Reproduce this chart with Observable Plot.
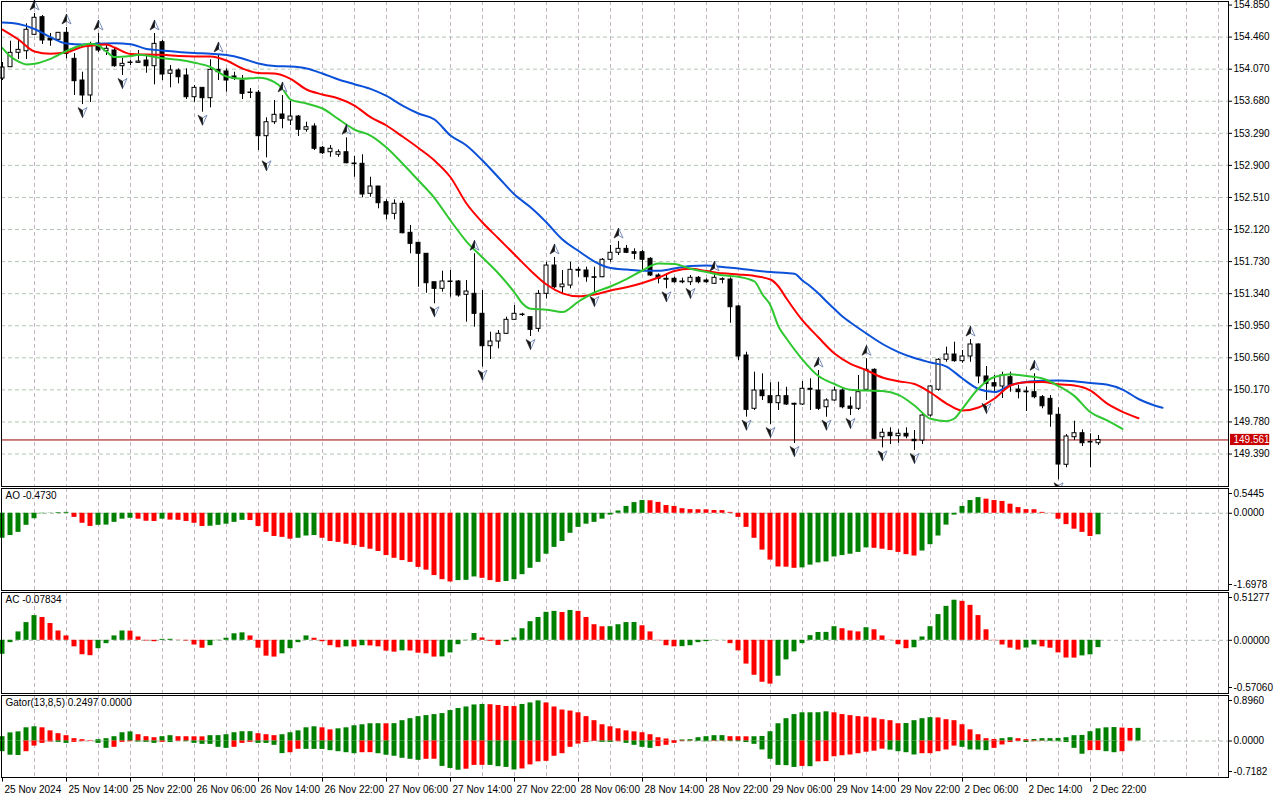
<!DOCTYPE html>
<html><head><meta charset="utf-8">
<script src="https://cdn.jsdelivr.net/npm/d3@7"></script>
<script src="https://cdn.jsdelivr.net/npm/@observablehq/plot@0.6"></script>
<style>
html,body{margin:0;padding:0;background:#fff;}
#chart{position:relative;width:1280px;height:800px;overflow:hidden;background:#fff;}
#chart > svg{position:absolute;left:0;overflow:visible;}
</style></head><body><div id="chart"></div>
<script>
// ---------- DATA ----------
const timeLabels = ["25 Nov 2024","25 Nov 14:00","25 Nov 22:00","26 Nov 06:00","26 Nov 14:00","26 Nov 22:00","27 Nov 06:00","27 Nov 14:00","27 Nov 22:00","28 Nov 06:00","28 Nov 14:00","28 Nov 22:00","29 Nov 06:00","29 Nov 14:00","29 Nov 22:00","2 Dec 06:00","2 Dec 14:00","2 Dec 22:00"];
const labelBars = [0,8,16,24,32,40,48,56,64,72,80,88,96,104,112,120,128,136];
const priceTicks = [154.850,154.460,154.070,153.680,153.290,152.900,152.510,152.120,151.730,151.340,150.950,150.560,150.170,149.780,149.390];
const lastPrice = 149.561;

const open = [153.956,154.094,154.269,154.288,154.488,154.702,154.443,154.427,154.512,154.196,153.932,153.750,154.382,154.288,154.297,154.106,154.151,154.147,154.175,154.106,154.398,154.014,154.054,153.993,153.729,153.843,153.717,154.062,154.042,153.981,153.932,153.786,153.783,153.255,153.425,153.519,153.446,153.494,153.333,153.373,153.114,153.060,153.029,153.060,152.923,152.919,152.554,152.643,152.452,152.311,152.433,152.080,151.958,151.825,151.479,151.399,151.488,151.488,151.326,151.338,151.095,150.701,150.758,150.852,151.022,151.086,151.054,150.912,151.338,151.682,151.418,151.439,151.630,151.622,151.540,151.540,151.752,151.837,151.885,151.844,151.844,151.764,151.561,151.521,151.521,151.488,151.479,151.533,151.500,151.460,151.508,151.512,151.184,150.588,149.940,150.162,150.093,150.008,150.093,150.001,149.992,150.183,150.162,149.959,150.041,150.162,149.968,149.940,150.171,150.414,149.594,149.648,149.607,149.636,149.563,149.554,149.858,150.171,150.536,150.600,150.519,150.576,150.722,150.333,150.251,150.211,150.324,150.174,150.150,150.142,150.081,150.061,149.867,149.259,149.594,149.643,149.538,149.521];
const high = [154.151,154.410,154.419,154.622,154.747,154.723,154.504,154.516,154.577,154.260,154.033,154.398,154.504,154.378,154.321,154.200,154.175,154.297,154.236,154.504,154.419,154.115,154.074,154.074,153.871,153.847,154.184,154.236,154.074,154.033,153.993,153.835,153.810,153.478,153.689,153.750,153.677,153.506,153.425,153.406,153.129,153.142,153.089,153.235,153.008,153.029,152.756,152.643,152.481,152.481,152.464,152.169,151.958,151.825,151.479,151.613,151.622,151.500,151.500,151.825,151.378,150.871,150.892,151.054,151.196,151.102,151.054,151.378,151.722,151.780,151.622,151.722,151.662,151.662,151.662,151.767,151.926,151.974,151.926,151.885,151.865,151.776,151.581,151.581,151.540,151.528,151.561,151.549,151.521,151.573,151.533,151.533,151.196,150.628,150.385,150.365,150.256,150.263,150.202,150.008,150.272,150.305,150.405,150.061,150.202,150.183,150.081,150.345,150.548,150.426,149.696,149.709,149.684,149.709,149.676,149.879,150.223,150.548,150.689,150.750,150.649,150.782,150.730,150.454,150.345,150.385,150.385,150.223,150.202,150.365,150.101,150.101,149.952,149.627,149.789,149.683,149.636,149.615];
const low = [153.932,154.090,154.188,154.188,154.479,154.370,154.349,154.419,154.196,153.750,153.640,153.665,154.273,154.236,154.094,153.993,154.115,154.139,154.021,153.880,153.932,153.843,153.892,153.701,153.668,153.547,153.600,153.932,153.790,153.932,153.701,153.713,153.081,152.992,153.397,153.345,153.385,153.251,153.303,153.081,153.032,152.999,152.999,152.919,152.756,152.506,152.513,152.372,152.238,152.238,152.068,151.825,151.418,151.345,151.217,151.358,151.297,151.297,150.993,150.932,150.446,150.539,150.669,150.843,151.014,151.062,150.819,150.871,151.277,151.399,151.338,151.399,151.540,151.479,151.342,151.533,151.722,151.804,151.828,151.752,151.622,151.549,151.460,151.399,151.467,151.460,151.439,151.460,151.467,151.451,151.460,150.981,150.527,149.838,149.919,150.041,149.749,149.919,149.980,149.518,149.980,149.919,149.919,149.838,150.032,149.940,149.858,149.919,150.162,149.563,149.465,149.505,149.521,149.575,149.433,149.505,149.838,150.154,150.506,150.506,150.494,150.506,150.244,150.041,150.129,150.065,150.142,150.061,149.907,150.061,149.940,149.716,149.076,149.222,149.554,149.481,149.222,149.494];
const close = [154.090,154.269,154.305,154.549,154.695,154.419,154.419,154.512,154.257,153.924,153.750,154.349,154.297,154.318,154.106,154.135,154.145,154.163,154.106,154.378,154.005,154.054,153.972,153.729,153.843,153.717,154.062,154.033,153.932,153.953,153.770,153.780,153.255,153.425,153.515,153.466,153.494,153.333,153.364,153.102,153.048,153.102,153.060,152.926,152.915,152.546,152.643,152.440,152.303,152.433,152.075,151.946,151.825,151.467,151.399,151.488,151.482,151.318,151.366,151.095,150.701,150.758,150.852,151.022,151.095,151.080,150.900,151.338,151.682,151.418,151.451,151.630,151.625,151.540,151.533,151.752,151.837,151.885,151.837,151.825,151.752,151.561,151.521,151.516,151.479,151.484,151.533,151.479,151.479,151.533,151.516,151.175,150.576,149.927,150.162,150.093,150.008,150.093,149.992,149.996,150.183,150.171,149.940,150.041,150.162,149.959,149.940,150.142,150.414,149.575,149.648,149.607,149.636,149.603,149.546,149.858,150.211,150.536,150.600,150.519,150.576,150.722,150.333,150.244,150.211,150.345,150.223,150.142,150.146,150.081,149.971,149.870,149.262,149.603,149.643,149.521,149.530,149.561];

const fractalUp = [4,8,12,19,27,35,43,59,69,77,89,102,108,121,129];
const fractalDown = [10,15,25,33,54,60,66,74,83,86,93,96,99,103,106,110,114,123,132];

// Alligator lines: [bar index, price]
const jaw = [[0,154.637],[2,154.619],[4,154.558],[6,154.459],[8,154.382],[10,154.370],[12,154.378],[14,154.386],[16,154.374],[18,154.315],[20,154.297],[22,154.279],[24,154.267],[26,154.258],[28,154.242],[30,154.200],[32,154.139],[34,154.108],[36,154.102],[38,154.078],[40,154.017],[42,153.944],[44,153.887],[46,153.831],[48,153.744],[50,153.628],[52,153.531],[54,153.458],[56,153.263],[58,153.142],[60,152.959],[62,152.753],[64,152.546],[66,152.391],[67,152.303],[68,152.205],[70,151.999],[72,151.859],[74,151.731],[76,151.652],[78,151.634],[80,151.618],[82,151.618],[84,151.646],[86,151.676],[88,151.682],[90,151.664],[92,151.646],[94,151.622],[96,151.603],[98,151.591],[99,151.581],[100,151.500],[101,151.427],[102,151.342],[103,151.245],[104,151.153],[105,151.062],[106,150.989],[108,150.855],[110,150.728],[112,150.630],[114,150.557],[116,150.503],[118,150.454],[120,150.308],[122,150.181],[124,150.144],[126,150.229],[128,150.266],[130,150.280],[132,150.284],[134,150.275],[136,150.253],[138,150.235],[140,150.174],[142,150.059],[144,149.980],[145,149.952]];
const teeth = [[0,154.552],[2,154.431],[4,154.285],[6,154.257],[8,154.275],[10,154.342],[12,154.364],[13,154.370],[14,154.333],[16,154.254],[18,154.248],[20,154.245],[22,154.230],[24,154.224],[26,154.224],[28,154.175],[30,154.078],[32,154.023],[34,154.017],[36,153.953],[38,153.823],[40,153.762],[42,153.713],[44,153.628],[46,153.486],[48,153.385],[50,153.251],[52,153.111],[54,152.959],[56,152.756],[58,152.436],[60,152.205],[62,152.011],[64,151.816],[66,151.622],[68,151.451],[70,151.344],[72,151.308],[74,151.330],[76,151.378],[78,151.417],[80,151.470],[82,151.536],[84,151.615],[86,151.642],[88,151.615],[90,151.587],[92,151.573],[94,151.555],[96,151.512],[97,151.427],[98,151.281],[100,151.014],[102,150.807],[104,150.612],[106,150.487],[108,150.409],[110,150.320],[112,150.275],[114,150.241],[116,150.138],[118,150.004],[120,149.919],[122,149.956],[124,150.065],[126,150.223],[128,150.264],[130,150.267],[132,150.238],[134,150.223],[136,150.162],[138,150.008],[140,149.903],[142,149.825]];
const lips = [[0,154.327],[1,154.224],[2,154.163],[3,154.127],[4,154.135],[6,154.196],[8,154.291],[10,154.364],[11,154.378],[12,154.358],[13,154.285],[14,154.218],[16,154.229],[17,154.245],[18,154.236],[20,154.202],[22,154.184],[24,154.149],[26,154.096],[28,153.981],[30,153.953],[32,153.965],[34,153.912],[35,153.831],[36,153.701],[38,153.652],[40,153.592],[42,153.462],[44,153.336],[46,153.263],[48,153.117],[50,152.923],[52,152.716],[54,152.503],[56,152.230],[58,151.974],[60,151.780],[62,151.585],[64,151.354],[65,151.220],[66,151.156],[68,151.144],[70,151.117],[72,151.245],[74,151.354],[76,151.427],[78,151.516],[80,151.622],[82,151.707],[84,151.701],[86,151.642],[88,151.603],[90,151.563],[92,151.545],[94,151.488],[95,151.330],[96,151.196],[97,150.941],[98,150.795],[100,150.539],[102,150.338],[104,150.241],[106,150.171],[108,150.162],[110,150.156],[112,150.109],[114,149.980],[116,149.818],[118,149.790],[119,149.822],[120,149.943],[122,150.187],[124,150.326],[126,150.359],[128,150.338],[130,150.308],[132,150.217],[134,150.094],[136,149.898],[138,149.803],[140,149.696]];

// Awesome Oscillator
const aoValues = [-0.55,-0.49,-0.42,-0.265,-0.12,-0.01,0.005,0.015,0.02,-0.09,-0.22,-0.29,-0.265,-0.26,-0.2,-0.13,-0.11,-0.13,-0.175,-0.18,-0.13,-0.15,-0.155,-0.18,-0.22,-0.29,-0.285,-0.265,-0.24,-0.2,-0.155,-0.16,-0.29,-0.42,-0.51,-0.53,-0.57,-0.55,-0.50,-0.49,-0.55,-0.62,-0.64,-0.68,-0.71,-0.75,-0.79,-0.84,-0.93,-0.99,-1.04,-1.08,-1.19,-1.25,-1.37,-1.46,-1.51,-1.48,-1.475,-1.40,-1.43,-1.48,-1.52,-1.50,-1.46,-1.35,-1.21,-1.08,-0.90,-0.75,-0.62,-0.44,-0.31,-0.24,-0.20,-0.13,-0.04,0.05,0.15,0.235,0.28,0.275,0.24,0.17,0.15,0.10,0.08,0.078,0.076,0.06,0.058,0.02,-0.09,-0.31,-0.55,-0.81,-1.03,-1.18,-1.185,-1.21,-1.20,-1.14,-1.09,-1.07,-0.96,-0.93,-0.90,-0.86,-0.76,-0.77,-0.79,-0.82,-0.86,-0.91,-0.94,-0.83,-0.69,-0.50,-0.26,-0.04,0.15,0.28,0.345,0.31,0.28,0.26,0.20,0.125,0.08,0.078,0.02,0.003,-0.13,-0.25,-0.35,-0.42,-0.51,-0.473];
const aoColorRuns = [["g",9],["r",3],["g",5],["r",3],["g",1],["r",5],["g",5],["r",6],["g",3],["r",17],["g",3],["r",3],["g",18],["r",19],["g",9],["r",6],["g",8],["r",14],["g",1]];
const aoAxis = [0.5445, 0.0000, -1.6978];

// Accelerator Oscillator
const acValues = [-0.15,-0.025,0.09,0.19,0.265,0.245,0.18,0.10,0.047,-0.07,-0.155,-0.165,-0.09,-0.036,0.047,0.10,0.098,0.036,-0.007,-0.015,0.01,0.011,-0.002,-0.007,-0.05,-0.085,-0.058,-0.004,0.022,0.07,0.08,0.047,-0.085,-0.17,-0.18,-0.145,-0.09,-0.025,0.047,0.022,-0.015,-0.058,-0.08,-0.07,-0.072,-0.058,-0.06,-0.07,-0.116,-0.127,-0.113,-0.115,-0.138,-0.145,-0.18,-0.178,-0.135,-0.047,-0.004,0.073,0.025,-0.01,-0.055,-0.015,0.025,0.124,0.20,0.245,0.30,0.31,0.298,0.32,0.31,0.245,0.167,0.145,0.146,0.167,0.19,0.191,0.156,0.09,-0.004,-0.058,-0.07,-0.068,-0.058,-0.025,-0.014,-0.002,-0.001,-0.036,-0.113,-0.255,-0.375,-0.45,-0.47,-0.385,-0.21,-0.124,-0.036,0.05,0.084,0.085,0.146,0.124,0.10,0.09,0.135,0.113,0.047,-0.002,-0.047,-0.09,-0.08,0.036,0.146,0.276,0.364,0.43,0.418,0.375,0.265,0.113,-0.004,-0.05,-0.084,-0.105,-0.083,-0.05,-0.07,-0.085,-0.135,-0.19,-0.191,-0.167,-0.156,-0.07834];
const acColorRuns = [["g",5],["r",7],["g",4],["r",4],["g",2],["r",4],["g",5],["r",4],["g",4],["r",4],["g",1],["r",1],["g",1],["r",4],["g",1],["r",4],["g",5],["r",3],["g",7],["r",1],["g",1],["r",4],["g",4],["r",5],["g",6],["r",6],["g",8],["r",3],["g",1],["r",5],["g",6],["r",8],["g",2],["r",5],["g",3]];
const acAxis = [0.51277, 0.00000, -0.57060];

// Gator Oscillator
const gatorUp = [0.085,0.16,0.18,0.26,0.28,0.26,0.20,0.144,0.105,0.046,0.026,0.007,0.026,0.046,0.085,0.163,0.18,0.124,0.085,0.065,0.085,0.105,0.085,0.084,0.083,0.082,0.105,0.106,0.124,0.163,0.183,0.184,0.144,0.124,0.105,0.124,0.163,0.20,0.26,0.28,0.26,0.22,0.24,0.26,0.30,0.32,0.34,0.341,0.339,0.342,0.40,0.44,0.48,0.50,0.52,0.54,0.60,0.64,0.67,0.71,0.72,0.715,0.70,0.68,0.679,0.72,0.75,0.79,0.75,0.67,0.61,0.59,0.555,0.48,0.40,0.32,0.28,0.24,0.20,0.18,0.163,0.124,0.065,0.04,0.01,0.02,0.026,0.065,0.085,0.105,0.106,0.085,0.084,0.083,0.084,0.09,0.183,0.34,0.44,0.52,0.555,0.556,0.557,0.575,0.555,0.52,0.50,0.48,0.47,0.45,0.42,0.40,0.34,0.345,0.40,0.44,0.46,0.455,0.42,0.40,0.32,0.22,0.124,0.046,0.03,0.046,0.065,0.046,0.026,0.03,0.046,0.047,0.05,0.065,0.105,0.11,0.183,0.24,0.26,0.265,0.255,0.247,0.2497];
const gatorUpColorRuns = [["g",5],["r",7],["g",5],["r",3],["g",2],["r",4],["g",6],["r",3],["g",5],["r",2],["g",6],["r",1],["g",12],["r",4],["g",3],["r",17],["g",6],["r",3],["g",10],["r",9],["g",4],["r",8],["g",2],["r",2],["g",11],["r",2],["g",1]];
const gatorDown = [-0.21,-0.28,-0.285,-0.21,-0.10,-0.046,-0.02,-0.026,-0.046,-0.026,-0.013,-0.005,-0.046,-0.144,-0.124,-0.026,-0.013,-0.02,-0.026,-0.046,-0.026,-0.03,-0.005,-0.013,-0.046,-0.065,-0.066,-0.124,-0.144,-0.124,-0.046,-0.026,-0.046,-0.047,-0.085,-0.248,-0.23,-0.163,-0.164,-0.165,-0.166,-0.19,-0.21,-0.23,-0.25,-0.23,-0.229,-0.25,-0.28,-0.30,-0.34,-0.36,-0.38,-0.36,-0.359,-0.50,-0.54,-0.575,-0.555,-0.48,-0.479,-0.48,-0.505,-0.52,-0.57,-0.55,-0.47,-0.41,-0.40,-0.30,-0.25,-0.124,-0.06,-0.03,-0.01,-0.026,-0.027,-0.013,-0.046,-0.085,-0.124,-0.144,-0.11,-0.085,-0.046,-0.01,-0.005,-0.01,-0.015,-0.01,-0.005,-0.01,-0.012,-0.03,-0.065,-0.176,-0.36,-0.48,-0.485,-0.52,-0.50,-0.505,-0.41,-0.405,-0.31,-0.29,-0.275,-0.25,-0.22,-0.20,-0.16,-0.18,-0.21,-0.23,-0.275,-0.25,-0.249,-0.21,-0.176,-0.10,-0.124,-0.176,-0.177,-0.19,-0.144,-0.078,-0.03,-0.01,-0.03,-0.013,-0.005,-0.01,-0.013,-0.03,-0.144,-0.26,-0.19,-0.188,-0.21,-0.23,-0.21];
const gatorDownColorRuns = [["g",3],["r",4],["g",2],["r",3],["g",2],["r",3],["g",3],["r",1],["g",1],["r",1],["g",6],["r",3],["g",4],["r",2],["g",7],["r",2],["g",6],["r",2],["g",3],["r",3],["g",4],["r",10],["g",2],["r",1],["g",4],["r",5],["g",2],["r",2],["g",9],["r",1],["g",1],["r",9],["g",4],["r",5],["g",4],["r",4],["g",1],["r",2],["g",5],["r",2],["g",2],["r",1]];
const gatorAxis = [0.8960, 0.0000, -0.7182];

// ---------- RENDER ----------
const expand = runs => runs.flatMap(([c, n]) => Array(n).fill(c));
const GREEN = "#008000", RED = "#ff0000";
const W = 1280, ML = 1, MR = 52;
const xDom = [-0.125, 153.25];
const xEnd = xDom[1];
const vGrid = d3.range(4, 153, 4);
const baseStyle = {fontFamily: "'Liberation Sans', Arial, sans-serif", fontSize: "10px", background: "transparent", color: "black", overflow: "visible"};
const gridV = () => Plot.ruleX(vGrid, {x: d => d, stroke: "#c4b4c4", strokeDasharray: "4,3"});
const chart = document.getElementById("chart");
function place(svg, top) { svg.style.top = top + "px"; chart.appendChild(svg); }

const candles = open.map((o, i) => ({i, open: o, high: high[i], low: low[i], close: close[i]}));
// fractal arrow glyph halves (dark left half, light right half)
const upL = {draw(c) { c.moveTo(0,-5.5); c.lineTo(-4.5,4.5); c.lineTo(0,1.8); c.closePath(); }};
const upR = {draw(c) { c.moveTo(0,-5.5); c.lineTo(4.5,4.5); c.lineTo(0,1.8); c.closePath(); }};
const dnL = {draw(c) { c.moveTo(0,5.5); c.lineTo(-4.5,-4.5); c.lineTo(0,-1.8); c.closePath(); }};
const dnR = {draw(c) { c.moveTo(0,5.5); c.lineTo(4.5,-4.5); c.lineTo(0,-1.8); c.closePath(); }};
const lineOpts = (color) => ({x: d => d[0], y: d => d[1], stroke: color, strokeWidth: 2, curve: "monotone-x"});
const upData = fractalUp.map(i => candles[i]);
const dnData = fractalDown.map(i => candles[i]);

const mainPlot = Plot.plot({
  width: W, height: 487, marginLeft: ML, marginRight: MR, marginTop: 1, marginBottom: 1,
  x: {domain: xDom, axis: null},
  y: {domain: [148.995, 154.893], axis: null},
  style: baseStyle,
  marks: [
    gridV(),
    Plot.ruleY(priceTicks.slice(1), {y: d => d, stroke: "#b2c6b2", strokeDasharray: "4,3"}),
    Plot.ruleY([lastPrice], {y: d => d, stroke: "#9a0000"}),
    Plot.ruleX(candles, {x: "i", y1: "low", y2: "high", stroke: "black"}),
    Plot.rect(candles, {x1: d => d.i - 0.25, x2: d => d.i + 0.25, y1: "open", y2: "close",
      fill: d => d.close >= d.open ? "white" : "black", stroke: "black"}),
    Plot.ruleY(candles.filter(d => Math.abs(d.close - d.open) < 0.006), {x1: d => d.i - 0.3, x2: d => d.i + 0.3, y: "close", stroke: "black"}),
    Plot.line(jaw, lineOpts("#0a50d8")),
    Plot.line(teeth, lineOpts("#ff0000")),
    Plot.line(lips, lineOpts("#2fc72f")),
    Plot.dot(upData, {x: "i", y: "high", symbol: upR, r: 5, dy: -8, fill: "white", stroke: "#6a7fb0", strokeWidth: 0.9}),
    Plot.dot(upData, {x: "i", y: "high", symbol: upL, r: 5, dy: -8, fill: "#151515", stroke: "#151515", strokeWidth: 0.6}),
    Plot.dot(dnData, {x: "i", y: "low", symbol: dnR, r: 5, dy: 7.5, fill: "white", stroke: "#6a7fb0", strokeWidth: 0.9, clip: true}),
    Plot.dot(dnData, {x: "i", y: "low", symbol: dnL, r: 5, dy: 7.5, fill: "#151515", stroke: "#151515", strokeWidth: 0.6, clip: true}),
    Plot.frame({stroke: "black"}),
    Plot.ruleY(priceTicks, {y: d => d, x1: xEnd, x2: xEnd + 0.5, stroke: "black"}),
    Plot.text(priceTicks, {x: xEnd, y: d => d, text: d => d.toFixed(3), dx: 5, textAnchor: "start", fill: "black"}),
    Plot.rect([lastPrice], {x1: xEnd + 0.25, x2: xEnd + 5.15, y1: d => d - 0.068, y2: d => d + 0.068, fill: "#c80000"}),
    Plot.text([lastPrice], {x: xEnd, y: d => d, text: d => d.toFixed(3), dx: 5, textAnchor: "start", fill: "white"})
  ]
});
place(mainPlot, 0);

function indicatorPane({height, marginBottom = 1, domain, bars, title, axisVals, digits, extra = []}) {
  const [vMax, vZero, vMin] = axisVals;
  const axisPts = [{v: vMax, dy: 5}, {v: vZero, dy: 0}, {v: vMin, dy: -6}];
  return Plot.plot({
    width: W, height, marginLeft: ML, marginRight: MR, marginTop: 1, marginBottom,
    x: {domain: xDom, axis: null},
    y: {domain, axis: null},
    style: baseStyle,
    marks: [
      gridV(),
      Plot.ruleY([0], {y: d => d, stroke: "#a9b9a9", strokeDasharray: "4,3"}),
      ...bars,
      Plot.frame({stroke: "black"}),
      Plot.text([title], {frameAnchor: "top-left", dx: 4, dy: 3, fill: "black"}),
      ...axisPts.map(p => Plot.ruleY([p.v], {y: d => d, x1: xEnd, x2: xEnd + 0.5, dy: p.dy, stroke: "black"})),
      ...axisPts.map(p => Plot.text([p.v], {x: xEnd, y: d => d, dy: p.dy, dx: 5, text: d => d.toFixed(digits), textAnchor: "start", fill: "black"})),
      ...extra
    ]
  });
}
const hist = (vals, colors, half = 0.3125) => Plot.rect(vals.map((v, i) => ({i, v, c: colors[i]})),
  {x1: d => d.i - half, x2: d => d.i + half, y1: 0, y2: "v", fill: d => d.c === "g" ? GREEN : RED});

place(indicatorPane({height: 104, domain: [-1.6978, 0.5445],
  bars: [hist(aoValues, expand(aoColorRuns))], title: "AO -0.4730", axisVals: aoAxis, digits: 4}), 487);

place(indicatorPane({height: 103, domain: [-0.5706, 0.51277],
  bars: [hist(acValues, expand(acColorRuns))], title: "AC -0.07834", axisVals: acAxis, digits: 5}), 591);

const gMin = -0.7182;
place(indicatorPane({height: 106, marginBottom: 23, domain: [gMin, 0.8960],
  bars: [hist(gatorUp, expand(gatorUpColorRuns)), hist(gatorDown, expand(gatorDownColorRuns))],
  title: "Gator(13,8,5) 0.2497 0.0000", axisVals: gatorAxis, digits: 4,
  extra: [
    Plot.ruleX(labelBars, {x: d => d, y1: gMin, y2: gMin - 0.09, stroke: "black"}),
    Plot.text(timeLabels, {x: (d, i) => labelBars[i], y: gMin, text: d => d, dx: 2, dy: 12, textAnchor: "start", fill: "black"})
  ]}), 694);
</script></body></html>
